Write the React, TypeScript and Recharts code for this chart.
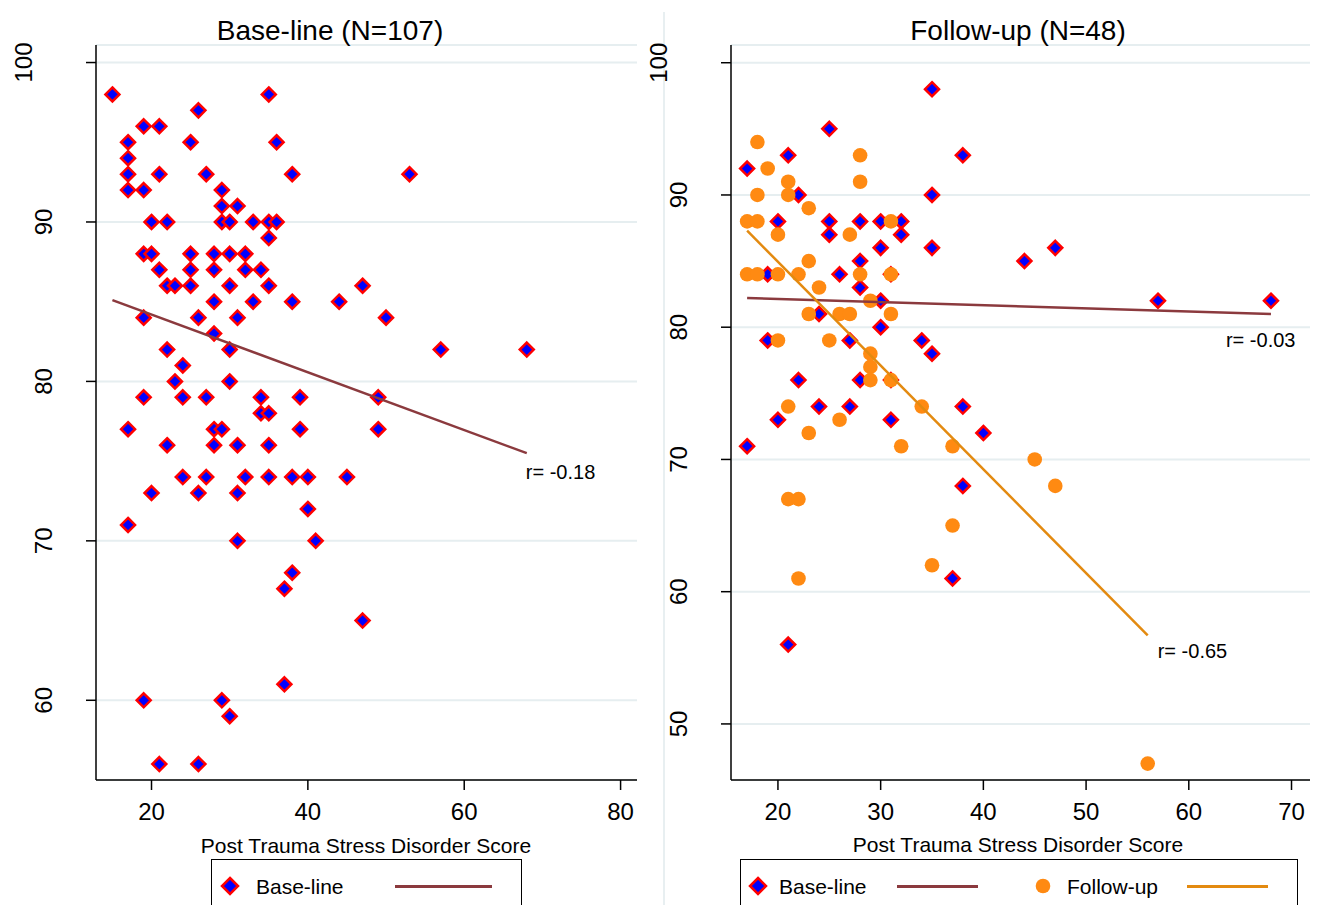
import React from 'react';
import { ScatterChart, Scatter, XAxis, YAxis, CartesianGrid, ReferenceDot } from 'recharts';

const FONT = '"Liberation Sans", Arial, Helvetica, sans-serif';

// Left panel: base-line, N=107 (PTSD score vs. outcome score)
const baseAllX = [
  15, 35, 26, 19, 21, 17, 25, 36, 17, 17, 21, 27, 38, 53, 17, 19, 29, 29, 31,
  20, 22, 29, 30, 33, 35, 36, 35, 19, 20, 25, 28, 30, 32, 21, 25, 28, 32, 34,
  22, 23, 25, 30, 35, 47, 28, 33, 38, 44, 19, 26, 31, 50, 28, 22, 30, 57, 68,
  24, 23, 30, 19, 24, 27, 34, 39, 49, 34, 35, 17, 28, 29, 39, 49, 22, 28, 31, 35,
  24, 27, 32, 35, 38, 40, 45, 20, 26, 31, 40, 17, 31, 41, 38, 37, 47, 37, 19, 29,
  30, 21, 26,
];
const baseAllY = [
  98, 98, 97, 96, 96, 95, 95, 95, 94, 93, 93, 93, 93, 93, 92, 92, 92, 91, 91,
  90, 90, 90, 90, 90, 90, 90, 89, 88, 88, 88, 88, 88, 88, 87, 87, 87, 87, 87,
  86, 86, 86, 86, 86, 86, 85, 85, 85, 85, 84, 84, 84, 84, 83, 82, 82, 82, 82,
  81, 80, 80, 79, 79, 79, 79, 79, 79, 78, 78, 77, 77, 77, 77, 77, 76, 76, 76, 76,
  74, 74, 74, 74, 74, 74, 74, 73, 73, 73, 72, 71, 70, 70, 68, 67, 65, 61, 60, 60,
  59, 56, 56,
];
const baseAllFitX = [15, 68];
const baseAllFitY = [85.1, 75.5];

// Right panel: N=48, base-line and follow-up
const baseSubX = [
  35, 25, 21, 38, 17, 22, 35, 20, 25, 28, 30, 32, 25, 32, 30, 35, 47, 28, 44,
  19, 26, 31, 28, 30, 57, 68, 24, 30, 19, 27, 34, 35, 22, 28, 31, 24, 27, 38,
  20, 31, 40, 17, 38, 37, 21,
];
const baseSubY = [
  98, 95, 93, 93, 92, 90, 90, 88, 88, 88, 88, 88, 87, 87, 86, 86, 86, 85, 85,
  84, 84, 84, 83, 82, 82, 82, 81, 80, 79, 79, 79, 78, 76, 76, 76, 74, 74, 74,
  73, 73, 72, 71, 68, 61, 56,
];
const followX = [
  18, 28, 19, 21, 28, 18, 21, 23, 17, 18, 31, 20, 27, 23, 17, 18, 20, 22, 28, 31,
  24, 29, 23, 26, 27, 31, 20, 25, 29, 29, 29, 31, 21, 34, 26, 23, 32, 37, 45, 47,
  21, 22, 37, 35, 22, 56,
];
const followY = [
  94, 93, 92, 91, 91, 90, 90, 89, 88, 88, 88, 87, 87, 85, 84, 84, 84, 84, 84, 84,
  83, 82, 81, 81, 81, 81, 79, 79, 78, 77, 76, 76, 74, 74, 73, 72, 71, 71, 70, 68,
  67, 67, 65, 62, 61, 47,
];
const baseSubFitX = [17, 68];
const baseSubFitY = [82.2, 81.0];
const followFitX = [17, 56];
const followFitY = [87.3, 56.7];

const leftXTicks = [20, 40, 60, 80];
const leftYTicks = [60, 70, 80, 90, 100];
const rightXTicks = [20, 30, 40, 50, 60, 70];
const rightYTicks = [50, 60, 70, 80, 90, 100];

const zip = (xs: number[], ys: number[]) => xs.map((x, i) => ({ x, y: ys[i] }));

const BLUE = '#0000ff';
const RED = '#ff0000';
const ORANGE = '#ff8a12';
const MAROON = '#8b3a3e';
const ORANGE_LINE = '#e38a10';
const GRID = '#e6eef0';

const Diamond = (props: any) => {
  const { cx, cy } = props;
  if (cx == null || cy == null) return <g />;
  const h = 7;
  return (
    <polygon
      points={`${cx},${cy - h} ${cx + h},${cy} ${cx},${cy + h} ${cx - h},${cy}`}
      fill={BLUE}
      stroke={RED}
      strokeWidth={2.5}
    />
  );
};

const Circle = (props: any) => {
  const { cx, cy } = props;
  if (cx == null || cy == null) return <g />;
  return <circle cx={cx} cy={cy} r={7.3} fill={ORANGE} />;
};

const NoShape = () => <g />;

const XTick = (props: any) => (
  <text x={props.x} y={props.y} dy={30} textAnchor="middle" fontSize={24} fontFamily={FONT} fill="#000">
    {props.payload.value}
  </text>
);

const YTick = (props: any) => {
  const label = String(props.payload.value);
  const bx = props.x - (label.length > 2 ? 54 : 33.5);
  return (
    <text
      x={bx}
      y={props.y}
      transform={`rotate(-90 ${bx} ${props.y})`}
      textAnchor="middle"
      fontSize={24}
      fontFamily={FONT}
      fill="#000"
    >
      {label}
    </text>
  );
};

const rLabel = (text: string, dx: number, dy: number) => (p: any) => (
  <text x={p.cx + dx} y={p.cy + dy} fontSize={20} fontFamily={FONT} fill="#000">
    {text}
  </text>
);

const axisLine = { stroke: '#000', strokeWidth: 1.5 };

const textStyle: React.CSSProperties = {
  position: 'absolute',
  fontFamily: FONT,
  color: '#000',
  whiteSpace: 'nowrap',
  lineHeight: 1,
  transform: 'translate(-50%, -50%)',
};

const LegendDiamond = () => (
  <svg width={22} height={22} style={{ display: 'block' }}>
    <polygon points="11,3 19,11 11,19 3,11" fill={BLUE} stroke={RED} strokeWidth={2.5} />
  </svg>
);

const LegendCircle = () => (
  <svg width={18} height={18} style={{ display: 'block' }}>
    <circle cx={9} cy={9} r={7.3} fill={ORANGE} />
  </svg>
);

const LegendLine = ({ color, width }: { color: string; width: number }) => (
  <div style={{ width, height: 3, background: color }} />
);

export default function App() {
  const baseAll = zip(baseAllX, baseAllY);
  const baseAllFit = zip(baseAllFitX, baseAllFitY);
  const baseSub = zip(baseSubX, baseSubY);
  const follow = zip(followX, followY);
  const baseSubFit = zip(baseSubFitX, baseSubFitY);
  const followFit = zip(followFitX, followFitY);

  return (
    <div
      style={{
        position: 'absolute',
        left: 0,
        top: 0,
        width: 1317,
        height: 905,
        background: '#fff',
        overflow: 'hidden',
        fontFamily: FONT,
      }}
    >
      {/* separator between panels (behind everything) */}
      <div style={{ position: 'absolute', left: 663, top: 12, width: 2, height: 893, background: '#e8eff1' }} />

      {/* left panel */}
      <div style={{ position: 'absolute', left: 0, top: 0 }}>
        <ScatterChart width={660} height={905} margin={{ top: 45, right: 23, left: 0, bottom: 0 }}>
          <CartesianGrid vertical={false} stroke={GRID} strokeWidth={2} />
          <XAxis
            type="number"
            dataKey="x"
            domain={[12.9, 82.1]}
            ticks={leftXTicks}
            allowDataOverflow
            height={125}
            tickSize={10}
            tickMargin={0}
            axisLine={axisLine}
            tickLine={axisLine}
            tick={(p: any) => <XTick {...p} />}
          />
          <YAxis
            type="number"
            dataKey="y"
            domain={[55, 101.1]}
            ticks={leftYTicks}
            allowDataOverflow
            width={96}
            tickSize={10}
            tickMargin={0}
            axisLine={axisLine}
            tickLine={axisLine}
            tick={(p: any) => <YTick {...p} />}
          />
          <Scatter data={baseAll} shape={Diamond} isAnimationActive={false} />
          <Scatter
            data={baseAllFit}
            shape={NoShape}
            line={{ stroke: MAROON, strokeWidth: 2.5 }}
            isAnimationActive={false}
          />
          <ReferenceDot
            x={baseAllFitX[1]}
            y={baseAllFitY[1]}
            r={0}
            shape={rLabel('r= -0.18', -1, 26)}
          />
        </ScatterChart>
      </div>

      {/* right panel */}
      <div style={{ position: 'absolute', left: 630, top: 0 }}>
        <ScatterChart width={687} height={905} margin={{ top: 45, right: 7, left: 0, bottom: 0 }}>
          <CartesianGrid vertical={false} stroke={GRID} strokeWidth={2} />
          <XAxis
            type="number"
            dataKey="x"
            domain={[15.43, 71.8]}
            ticks={rightXTicks}
            allowDataOverflow
            height={125}
            tickSize={10}
            tickMargin={0}
            axisLine={axisLine}
            tickLine={axisLine}
            tick={(p: any) => <XTick {...p} />}
          />
          <YAxis
            type="number"
            dataKey="y"
            domain={[45.76, 101.34]}
            ticks={rightYTicks}
            allowDataOverflow
            width={101}
            tickSize={10}
            tickMargin={0}
            axisLine={axisLine}
            tickLine={axisLine}
            tick={(p: any) => <YTick {...p} />}
          />
          <Scatter data={baseSub} shape={Diamond} isAnimationActive={false} />
          <Scatter data={follow} shape={Circle} isAnimationActive={false} />
          <Scatter
            data={baseSubFit}
            shape={NoShape}
            line={{ stroke: MAROON, strokeWidth: 2.5 }}
            isAnimationActive={false}
          />
          <Scatter
            data={followFit}
            shape={NoShape}
            line={{ stroke: ORANGE_LINE, strokeWidth: 2.5 }}
            isAnimationActive={false}
          />
          <ReferenceDot
            x={baseSubFitX[1]}
            y={baseSubFitY[1]}
            r={0}
            shape={rLabel('r= -0.03', -45, 33)}
          />
          <ReferenceDot
            x={followFitX[1]}
            y={followFitY[1]}
            r={0}
            shape={rLabel('r= -0.65', 10, 23)}
          />
        </ScatterChart>
      </div>

      {/* titles */}
      <div style={{ ...textStyle, left: 330, top: 31, fontSize: 28 }}>Base-line (N=107)</div>
      <div style={{ ...textStyle, left: 1018, top: 31, fontSize: 28 }}>Follow-up (N=48)</div>

      {/* x-axis titles */}
      <div style={{ ...textStyle, left: 366, top: 845, fontSize: 21 }}>Post Trauma Stress Disorder Score</div>
      <div style={{ ...textStyle, left: 1018, top: 844, fontSize: 21 }}>Post Trauma Stress Disorder Score</div>

      {/* legends */}
      <div
        style={{
          position: 'absolute',
          left: 211,
          top: 859,
          width: 311,
          height: 70,
          border: '1.5px solid #000',
          boxSizing: 'border-box',
        }}
      >
        <div style={{ position: 'absolute', left: 7, top: 15 }}>
          <LegendDiamond />
        </div>
        <div style={{ position: 'absolute', left: 44, top: 16, fontSize: 21, lineHeight: 1 }}>Base-line</div>
        <div style={{ position: 'absolute', left: 183, top: 24.5 }}>
          <LegendLine color={MAROON} width={97} />
        </div>
      </div>

      <div
        style={{
          position: 'absolute',
          left: 740,
          top: 859,
          width: 558,
          height: 70,
          border: '1.5px solid #000',
          boxSizing: 'border-box',
        }}
      >
        <div style={{ position: 'absolute', left: 6, top: 15 }}>
          <LegendDiamond />
        </div>
        <div style={{ position: 'absolute', left: 38, top: 16, fontSize: 21, lineHeight: 1 }}>Base-line</div>
        <div style={{ position: 'absolute', left: 156, top: 24.5 }}>
          <LegendLine color={MAROON} width={81} />
        </div>
        <div style={{ position: 'absolute', left: 293, top: 17 }}>
          <LegendCircle />
        </div>
        <div style={{ position: 'absolute', left: 326, top: 16, fontSize: 21, lineHeight: 1 }}>Follow-up</div>
        <div style={{ position: 'absolute', left: 446, top: 24.5 }}>
          <LegendLine color={ORANGE_LINE} width={81} />
        </div>
      </div>
    </div>
  );
}
